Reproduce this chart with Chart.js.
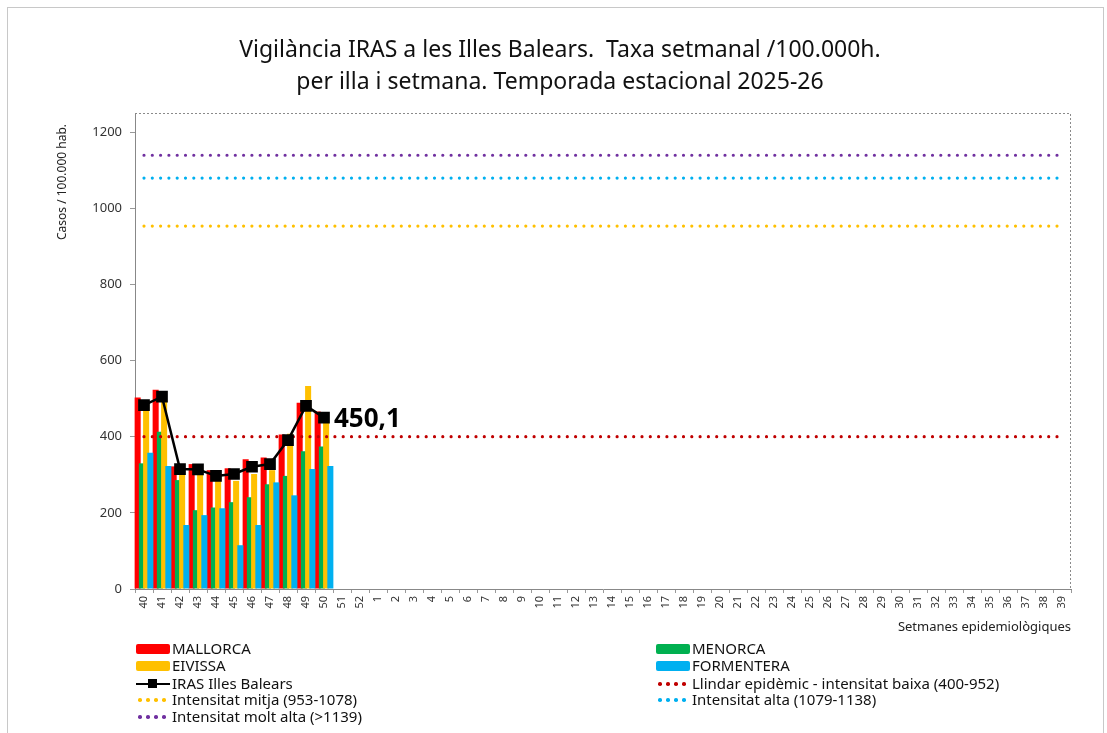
<!DOCTYPE html>
<html>
<head>
<meta charset="utf-8">
<script src="https://cdn.jsdelivr.net/npm/chart.js@4/dist/chart.umd.min.js"></script>
<style>
  body { margin: 0; background: #fff; font-family: 'Noto Sans', sans-serif; }
  #wrap { position: relative; width: 1107px; height: 733px; overflow: hidden; }
  #frame { position: absolute; left: 7px; top: 7px; width: 1095px; height: 760px; border: 1px solid #c8c8c8; }
  #chart { position: absolute; left: 0; top: 0; }
  #title { position: absolute; left: 0; width: 1120px; top: 32px; text-align: center; font-size: 23px; line-height: 32px; color: #111; }
  .leg { position: absolute; font-size: 15px; color: #111; height: 17px; line-height: 17px; white-space: nowrap; }
  .sym { display: inline-block; position: relative; width: 34px; height: 17px; vertical-align: top; margin-right: 2px; }
  .box { position: absolute; left: 0; top: 4px; width: 34px; height: 10px; border-radius: 2px; }
  .ln { position: absolute; left: 0; top: 8px; width: 34px; height: 2px; background: #000; }
  .sq { position: absolute; left: 12px; top: 4px; width: 9px; height: 9px; background: #000; }
  .dot { position: absolute; top: 7px; width: 3.5px; height: 3.5px; border-radius: 50%; }
</style>
</head>
<body>
<div id="wrap">
  <div id="frame"></div>
  <canvas id="chart" width="1107" height="640"></canvas>
  <div id="title">Vigilància IRAS a les Illes Balears.&nbsp; Taxa setmanal /100.000h.<br>per illa i setmana. Temporada estacional 2025-26</div>
  <div id="legend"></div>
</div>
<script>
// Setmanes epidemiològiques (temporada 2025-26)
const setmanes = ['40','41','42','43','44','45','46','47','48','49','50','51','52',
  '1','2','3','4','5','6','7','8','9','10','11','12','13','14','15','16','17','18','19',
  '20','21','22','23','24','25','26','27','28','29','30','31','32','33','34','35','36','37','38','39'];

// Taxes per illa (setmanes 40 a 50)
const mallorca   = [503, 523, 322, 328, 312, 317, 341, 345, 406, 489, 466];
const menorca    = [330, 413, 286, 207, 214, 228, 241, 275, 297, 362, 374];
const eivissa    = [487, 500, 305, 320, 295, 284, 302, 312, 408, 533, 437];
const formentera = [358, 323, 168, 194, 212, 115, 168, 280, 246, 315, 323];
const irasBalears = [483, 505, 315, 314, 297, 302, 321, 328, 391, 481, 450.1];

// Llindars d'intensitat
const llindars = [400, 953, 1079, 1139];
const llindarsNoms = ['Llindar epidèmic - intensitat baixa (400-952)', 'Intensitat mitja (953-1078)',
  'Intensitat alta (1079-1138)', 'Intensitat molt alta (>1139)'];
const llindarsColors = ['#C00000', '#FFC000', '#00B0F0', '#7030A0'];

const yTicks = [0, 200, 400, 600, 800, 1000, 1200];

Chart.defaults.font.family = "'Noto Sans', sans-serif";
Chart.defaults.color = '#222';

function barra(label, data, color) {
  return { type: 'bar', label: label, data: data, backgroundColor: color,
    borderWidth: 0, categoryPercentage: 0.94, barPercentage: 1.43 };
}

const datasets = [
  barra('MALLORCA', mallorca, '#FF0000'),
  barra('MENORCA', menorca, '#00B050'),
  barra('EIVISSA', eivissa, '#FFC000'),
  barra('FORMENTERA', formentera, '#00B0F0'),
  { type: 'line', label: 'IRAS Illes Balears', data: irasBalears, borderColor: '#000', borderWidth: 2.5,
    pointStyle: 'rect', pointRadius: 6.5, pointBackgroundColor: '#000', pointBorderColor: '#000', tension: 0 }
];
llindars.forEach((v, i) => {
  datasets.push({ type: 'line', label: llindarsNoms[i],
    data: [{ x: setmanes[0], y: v }, { x: setmanes[setmanes.length - 1], y: v }],
    borderColor: llindarsColors[i], borderWidth: 3.2, borderDash: [0, 8.3], borderCapStyle: 'round',
    pointRadius: 0 });
});

// ordre de dibuix: barres, llindars, línia IRAS
const drawOrder = [0, 1, 2, 3, 5, 6, 7, 8, 4];

const plotExtras = {
  id: 'plotExtras',
  beforeDatasetsDraw(chart) {
    drawOrder.forEach(i => {
      const meta = chart.getDatasetMeta(i);
      if (!meta.hidden) meta.controller.draw();
    });
    return false;
  },
  afterDraw(chart) {
    const ctx = chart.ctx;
    const a = chart.chartArea;
    ctx.save();
    // marc discontinu de l'àrea del gràfic
    ctx.strokeStyle = '#8a8a8a';
    ctx.lineWidth = 1;
    ctx.setLineDash([2, 2]);
    ctx.beginPath();
    ctx.moveTo(a.left, a.top + 0.5);
    ctx.lineTo(a.right - 0.5, a.top + 0.5);
    ctx.lineTo(a.right - 0.5, a.bottom);
    ctx.stroke();
    ctx.setLineDash([]);
    // títol de l'eix Y
    ctx.save();
    ctx.translate(63, 182);
    ctx.rotate(-Math.PI / 2);
    ctx.font = "12px 'Noto Sans', sans-serif";
    ctx.fillStyle = '#222';
    ctx.textAlign = 'center';
    ctx.textBaseline = 'middle';
    ctx.fillText('Casos / 100.000 hab.', 0, 0);
    ctx.restore();
    // etiqueta del darrer valor
    const meta = chart.getDatasetMeta(4);
    const last = meta.data[meta.data.length - 1];
    const val = irasBalears[irasBalears.length - 1];
    ctx.fillStyle = '#000';
    ctx.font = "bold 26px 'Noto Sans', sans-serif";
    ctx.textBaseline = 'middle';
    ctx.textAlign = 'left';
    ctx.fillText(val.toFixed(1).replace('.', ','), last.x + 10, last.y + 2);
    ctx.restore();
  }
};

new Chart(document.getElementById('chart'), {
  data: { labels: setmanes, datasets: datasets },
  options: {
    responsive: false,
    animation: false,
    layout: { padding: { left: 55, top: 113, right: 36, bottom: 0 } },
    plugins: { legend: { display: false }, tooltip: { enabled: false } },
    scales: {
      x: {
        grid: { display: true, drawOnChartArea: false, offset: true, tickLength: 4, color: '#999' },
        border: { color: '#888' },
        ticks: { autoSkip: false, minRotation: 90, maxRotation: 90, font: { size: 11 }, color: '#333', padding: 3 },
        title: { display: true, text: 'Setmanes epidemiològiques', align: 'end', font: { size: 13 }, color: '#222',
          padding: { top: 0, bottom: 5 } },
        afterFit(s) { s.height = 51; }
      },
      y: {
        min: 0, max: 1250,
        afterBuildTicks(s) { s.ticks = yTicks.map(v => ({ value: v })); },
        grid: { display: true, drawOnChartArea: false, tickLength: 5, color: '#999' },
        border: { color: '#888' },
        ticks: { font: { size: 13 }, color: '#333', padding: 8, callback: v => String(v) },
        afterFit(s) { s.width = 80; }
      }
    }
  },
  plugins: [plotExtras]
});

// Llegenda en dues columnes
const legendItems = [
  { text: 'MALLORCA', kind: 'box', color: '#FF0000', col: 0, row: 0 },
  { text: 'MENORCA', kind: 'box', color: '#00B050', col: 1, row: 0 },
  { text: 'EIVISSA', kind: 'box', color: '#FFC000', col: 0, row: 1 },
  { text: 'FORMENTERA', kind: 'box', color: '#00B0F0', col: 1, row: 1 },
  { text: 'IRAS Illes Balears', kind: 'line', color: '#000', col: 0, row: 2 },
  { text: llindarsNoms[0], kind: 'dots', color: llindarsColors[0], col: 1, row: 2 },
  { text: llindarsNoms[1], kind: 'dots', color: llindarsColors[1], col: 0, row: 3 },
  { text: llindarsNoms[2], kind: 'dots', color: llindarsColors[2], col: 1, row: 3 },
  { text: llindarsNoms[3], kind: 'dots', color: llindarsColors[3], col: 0, row: 4 }
];
const rowY = [640, 657, 675, 691, 708];
const colX = [136, 656];
const legend = document.getElementById('legend');
legendItems.forEach(it => {
  const d = document.createElement('div');
  d.className = 'leg';
  d.style.left = colX[it.col] + 'px';
  d.style.top = rowY[it.row] + 'px';
  let sym = '';
  if (it.kind === 'box') sym = `<span class="box" style="background:${it.color}"></span>`;
  else if (it.kind === 'line') sym = `<span class="ln"></span><span class="sq"></span>`;
  else sym = [2, 10, 18, 26].map(x => `<span class="dot" style="left:${x}px;background:${it.color}"></span>`).join('');
  const pad = it.kind === 'dots' ? ' style="margin-right:2px"' : '';
  d.innerHTML = `<span class="sym"${pad}>${sym}</span>${it.text}`;
  legend.appendChild(d);
});
</script>
</body>
</html>
